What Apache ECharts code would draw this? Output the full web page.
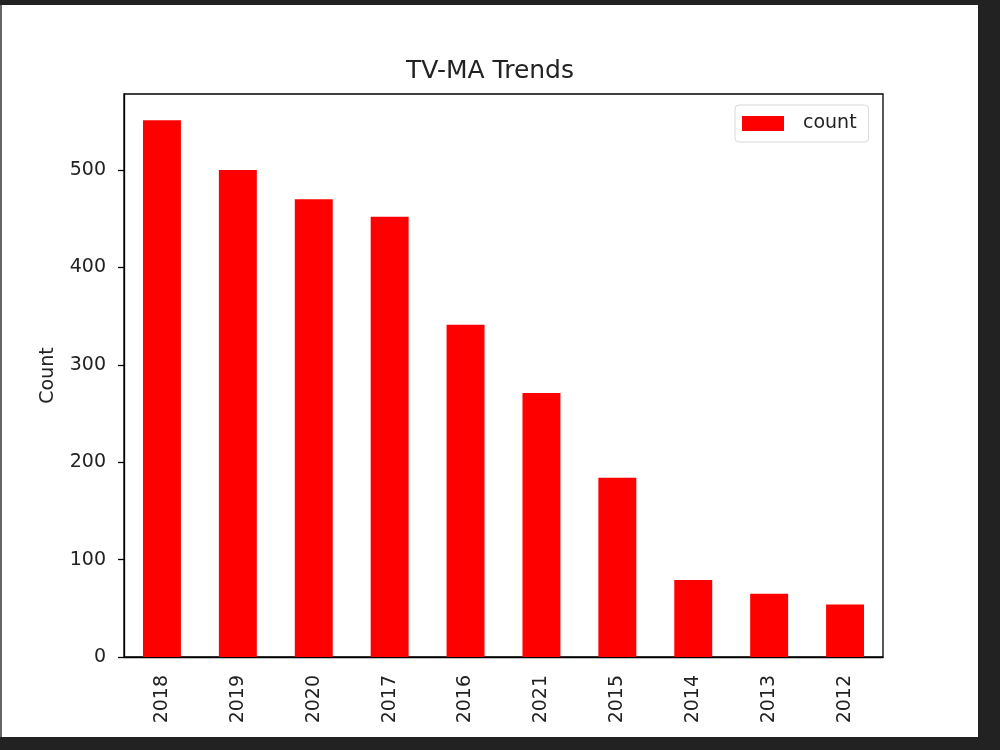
<!DOCTYPE html>
<html>
<head>
<meta charset="utf-8">
<script src="https://cdn.jsdelivr.net/npm/echarts@6/dist/echarts.min.js"></script>
<style>
  html, body { margin: 0; padding: 0; background: #222; }
  #frame { position: absolute; left: 0; top: 5px; width: 978px; height: 732px; background: #fff; border-left: 2px solid #666; box-sizing: border-box; }
  #chart { width: 976px; height: 732px; }
</style>
</head>
<body>
<div id="frame"><div id="chart"></div></div>
<script>
const years = ['2018', '2019', '2020', '2017', '2016', '2021', '2015', '2014', '2013', '2012'];
const counts = [551, 500, 470, 452, 341, 271, 184, 79, 65, 54];
const yTicks = [0, 100, 200, 300, 400, 500];

const FONT = 'DejaVu Sans';
const TEXT = '#222';

const chart = echarts.init(document.getElementById('chart'));

chart.setOption({
  animation: false,
  backgroundColor: '#fff',
  textStyle: { fontFamily: FONT },
  title: {
    text: 'TV-MA Trends',
    left: 'center',
    top: 49,
    textStyle: { fontFamily: FONT, fontSize: 25, fontWeight: 'normal', color: TEXT }
  },
  legend: {
    data: ['count'],
    icon: 'rect',
    left: 733,
    top: 100,
    itemWidth: 42,
    itemHeight: 15,
    padding: [9, 12, 9, 7],
    backgroundColor: '#fff',
    borderColor: '#d8d8d8',
    borderWidth: 1,
    borderRadius: 4,
    textStyle: { fontFamily: FONT, fontSize: 19, color: TEXT, padding: [0, 0, 0, 14] }
  },
  grid: {
    left: 122,
    right: 95,
    top: 89,
    bottom: 80,
    outerBoundsMode: 'none',
    show: true,
    borderColor: '#000',
    borderWidth: 1.3,
    backgroundColor: 'transparent'
  },
  xAxis: {
    type: 'category',
    data: years,
    name: 'year',
    nameLocation: 'middle',
    nameGap: 88,
    nameTextStyle: { fontFamily: FONT, fontSize: 19, color: TEXT },
    axisLine: { lineStyle: { color: '#000', width: 1.3 } },
    axisTick: { alignWithLabel: true, length: 6, lineStyle: { color: '#000', width: 1.3 } },
    axisLabel: { rotate: 90, margin: 18, fontFamily: FONT, fontSize: 19, color: TEXT }
  },
  yAxis: {
    type: 'value',
    min: 0,
    max: 578,
    interval: 100,
    name: 'Count',
    nameLocation: 'middle',
    nameGap: 66,
    nameTextStyle: { fontFamily: FONT, fontSize: 19, color: TEXT },
    axisLine: { show: true, lineStyle: { color: '#000', width: 1.3 } },
    axisTick: { show: true, length: 6, customValues: yTicks, lineStyle: { color: '#000', width: 1.3 } },
    splitLine: { show: false },
    axisLabel: {
      margin: 18,
      customValues: yTicks,
      fontFamily: FONT,
      fontSize: 19,
      color: TEXT
    }
  },
  series: [{
    name: 'count',
    type: 'bar',
    data: counts,
    barWidth: '50%',
    itemStyle: { color: '#ff0000' }
  }]
});
</script>
</body>
</html>
